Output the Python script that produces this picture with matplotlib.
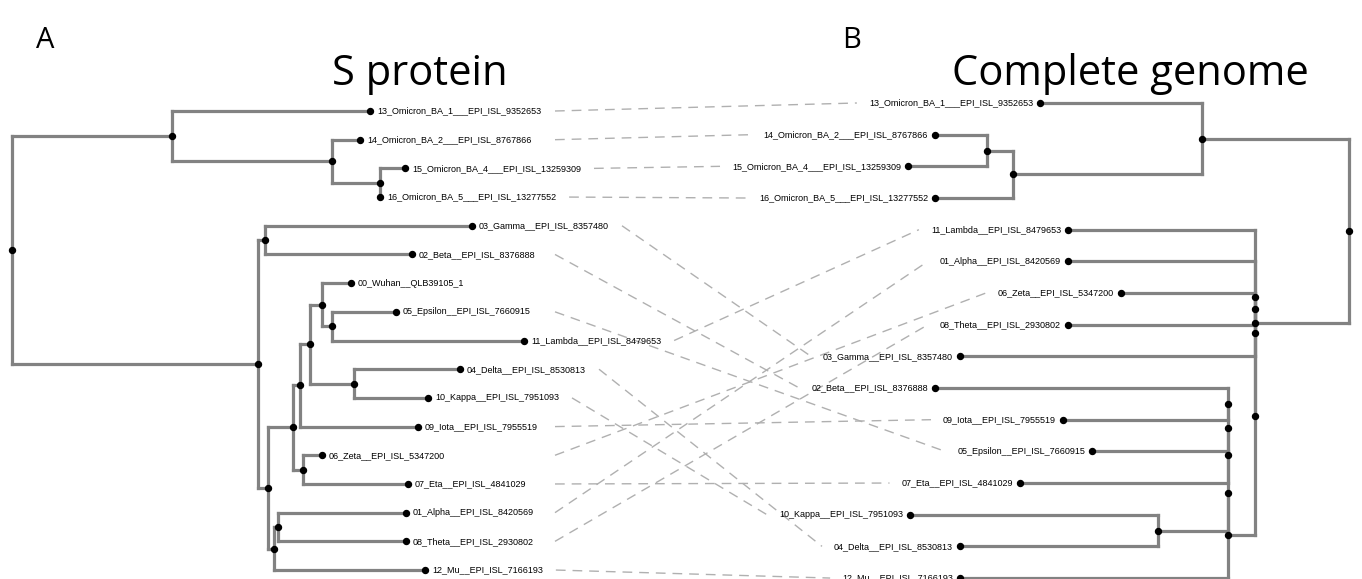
import matplotlib
matplotlib.use("Agg")
import matplotlib.pyplot as plt
from matplotlib import font_manager

# ---------------- data ----------------
leaf_names = [
    "00_Wuhan__QLB39105_1",
    "01_Alpha__EPI_ISL_8420569",
    "02_Beta__EPI_ISL_8376888",
    "03_Gamma__EPI_ISL_8357480",
    "04_Delta__EPI_ISL_8530813",
    "05_Epsilon__EPI_ISL_7660915",
    "06_Zeta__EPI_ISL_5347200",
    "07_Eta__EPI_ISL_4841029",
    "08_Theta__EPI_ISL_2930802",
    "09_Iota__EPI_ISL_7955519",
    "10_Kappa__EPI_ISL_7951093",
    "11_Lambda__EPI_ISL_8479653",
    "12_Mu__EPI_ISL_7166193",
    "13_Omicron_BA_1___EPI_ISL_9352653",
    "14_Omicron_BA_2___EPI_ISL_8767866",
    "15_Omicron_BA_4___EPI_ISL_13259309",
    "16_Omicron_BA_5___EPI_ISL_13277552",
]
labels = {n[:2]: n for n in leaf_names}

# branch lengths (arbitrary units)
s_protein_newick = (
    "((13:198,(14:28,(15:25,16:0):48):160):160,"
    "((03:207,02:147):7,(((((00:29,(05:64,11:192):10):12,(04:106,10:74):44):10,09:118):7,"
    "(06:19,07:105):10):25,((01:128,08:128):4,12:151):6):10):246);"
)
genome_newick = (
    "((13:162,((14:52,15:79):26,16:78):189):147,"
    "(11:187,((01:187,((06:134,08:187):0,03:295):0):0,"
    "(((((02:293,09:165):0,05:136):0,07:208):0,(10:248,04:198):70):0,12:268):27):0):94);"
)

panel_letters = ["A", "B"]
panel_titles = ["S protein", "Complete genome"]


def parse_newick(s):
    s = s.strip().rstrip(";")
    pos = 0

    def node():
        nonlocal pos
        children = []
        name = None
        if s[pos] == "(":
            pos += 1
            children.append(node())
            while s[pos] == ",":
                pos += 1
                children.append(node())
            pos += 1
        else:
            start = pos
            while pos < len(s) and s[pos] not in ",):":
                pos += 1
            name = s[start:pos]
        length = 0.0
        if pos < len(s) and s[pos] == ":":
            pos += 1
            start = pos
            while pos < len(s) and s[pos] not in ",)":
                pos += 1
            length = float(s[start:pos])
        return {"name": name, "len": length, "children": children}

    return node()


W, H = 1362, 579
fig = plt.figure(figsize=(W / 100, H / 100), dpi=100)
ax = fig.add_axes([0, 0, 1, 1])
ax.set_xlim(0, W)
ax.set_ylim(H, 0)
ax.axis("off")

names = {f.name for f in font_manager.fontManager.ttflist}
if "Liberation Sans Narrow" in names:
    label_font, label_size = "Liberation Sans Narrow", 7.9
else:
    label_font, label_size = "Liberation Sans", 6.5

branch_kw = dict(color="#828282", lw=2.3, solid_capstyle="projecting", zorder=2)
dot_kw = dict(marker="o", ms=4.3, color="black", ls="none", zorder=3)


def draw_tree(tree, x_root, sign, y_top, y_step):
    leaves = []

    def walk(nd, x_parent):
        x = x_parent + sign * nd["len"]
        if not nd["children"]:
            y = y_top + len(leaves) * y_step
            leaves.append((nd["name"], x, y))
        else:
            pts = [walk(c, x) for c in nd["children"]]
            y = (pts[0][1] + pts[-1][1]) / 2
            ax.plot([x, x], [pts[0][1], pts[-1][1]], **branch_kw)
            for cx, cy in pts:
                ax.plot([x, cx], [cy, cy], **branch_kw)
        ax.plot(x, y, **dot_kw)
        return x, y

    walk(tree, x_root)
    return leaves


left_leaves = draw_tree(parse_newick(s_protein_newick), 12, 1, 111, 28.69)
right_leaves = draw_tree(parse_newick(genome_newick), 1349, -1, 103, 31.67)

left_txt = {}
for code, x, y in left_leaves:
    left_txt[code] = ax.text(x + 7, y, labels[code], ha="left", va="center",
                             fontsize=label_size, family=label_font)
right_txt = {}
for code, x, y in right_leaves:
    right_txt[code] = ax.text(x - 7, y, labels[code], ha="right", va="center",
                              fontsize=label_size, family=label_font)

# titles
fig.text(45 / W, 1 - 41 / H, panel_letters[0], fontsize=21, family="Open Sans", ha="center", va="center")
fig.text(420 / W, 1 - 74 / H, panel_titles[0], fontsize=30, family="Open Sans", ha="center", va="center")
fig.text(852 / W, 1 - 41 / H, panel_letters[1], fontsize=21, family="Open Sans", ha="center", va="center")
fig.text(1130 / W, 1 - 74 / H, panel_titles[1], fontsize=30, family="Open Sans", ha="center", va="center")

# dashed connectors between matching tips
fig.canvas.draw()
rend = fig.canvas.get_renderer()
inv = ax.transData.inverted()
left_y = {c: y for c, x, y in left_leaves}
right_y = {c: y for c, x, y in right_leaves}
for code in right_txt:
    if code not in left_txt:
        continue
    bl = left_txt[code].get_window_extent(rend)
    br = right_txt[code].get_window_extent(rend)
    x0 = inv.transform((bl.x1, 0))[0] + 13
    x1 = inv.transform((br.x0, 0))[0] - 12
    x0 = max(x0, 555)
    ax.plot([x0, x1], [left_y[code], right_y[code]], color="#b0b0b0", lw=1.0,
            ls=(0, (7, 5)), zorder=1)

fig.savefig("out.png", dpi=100)
